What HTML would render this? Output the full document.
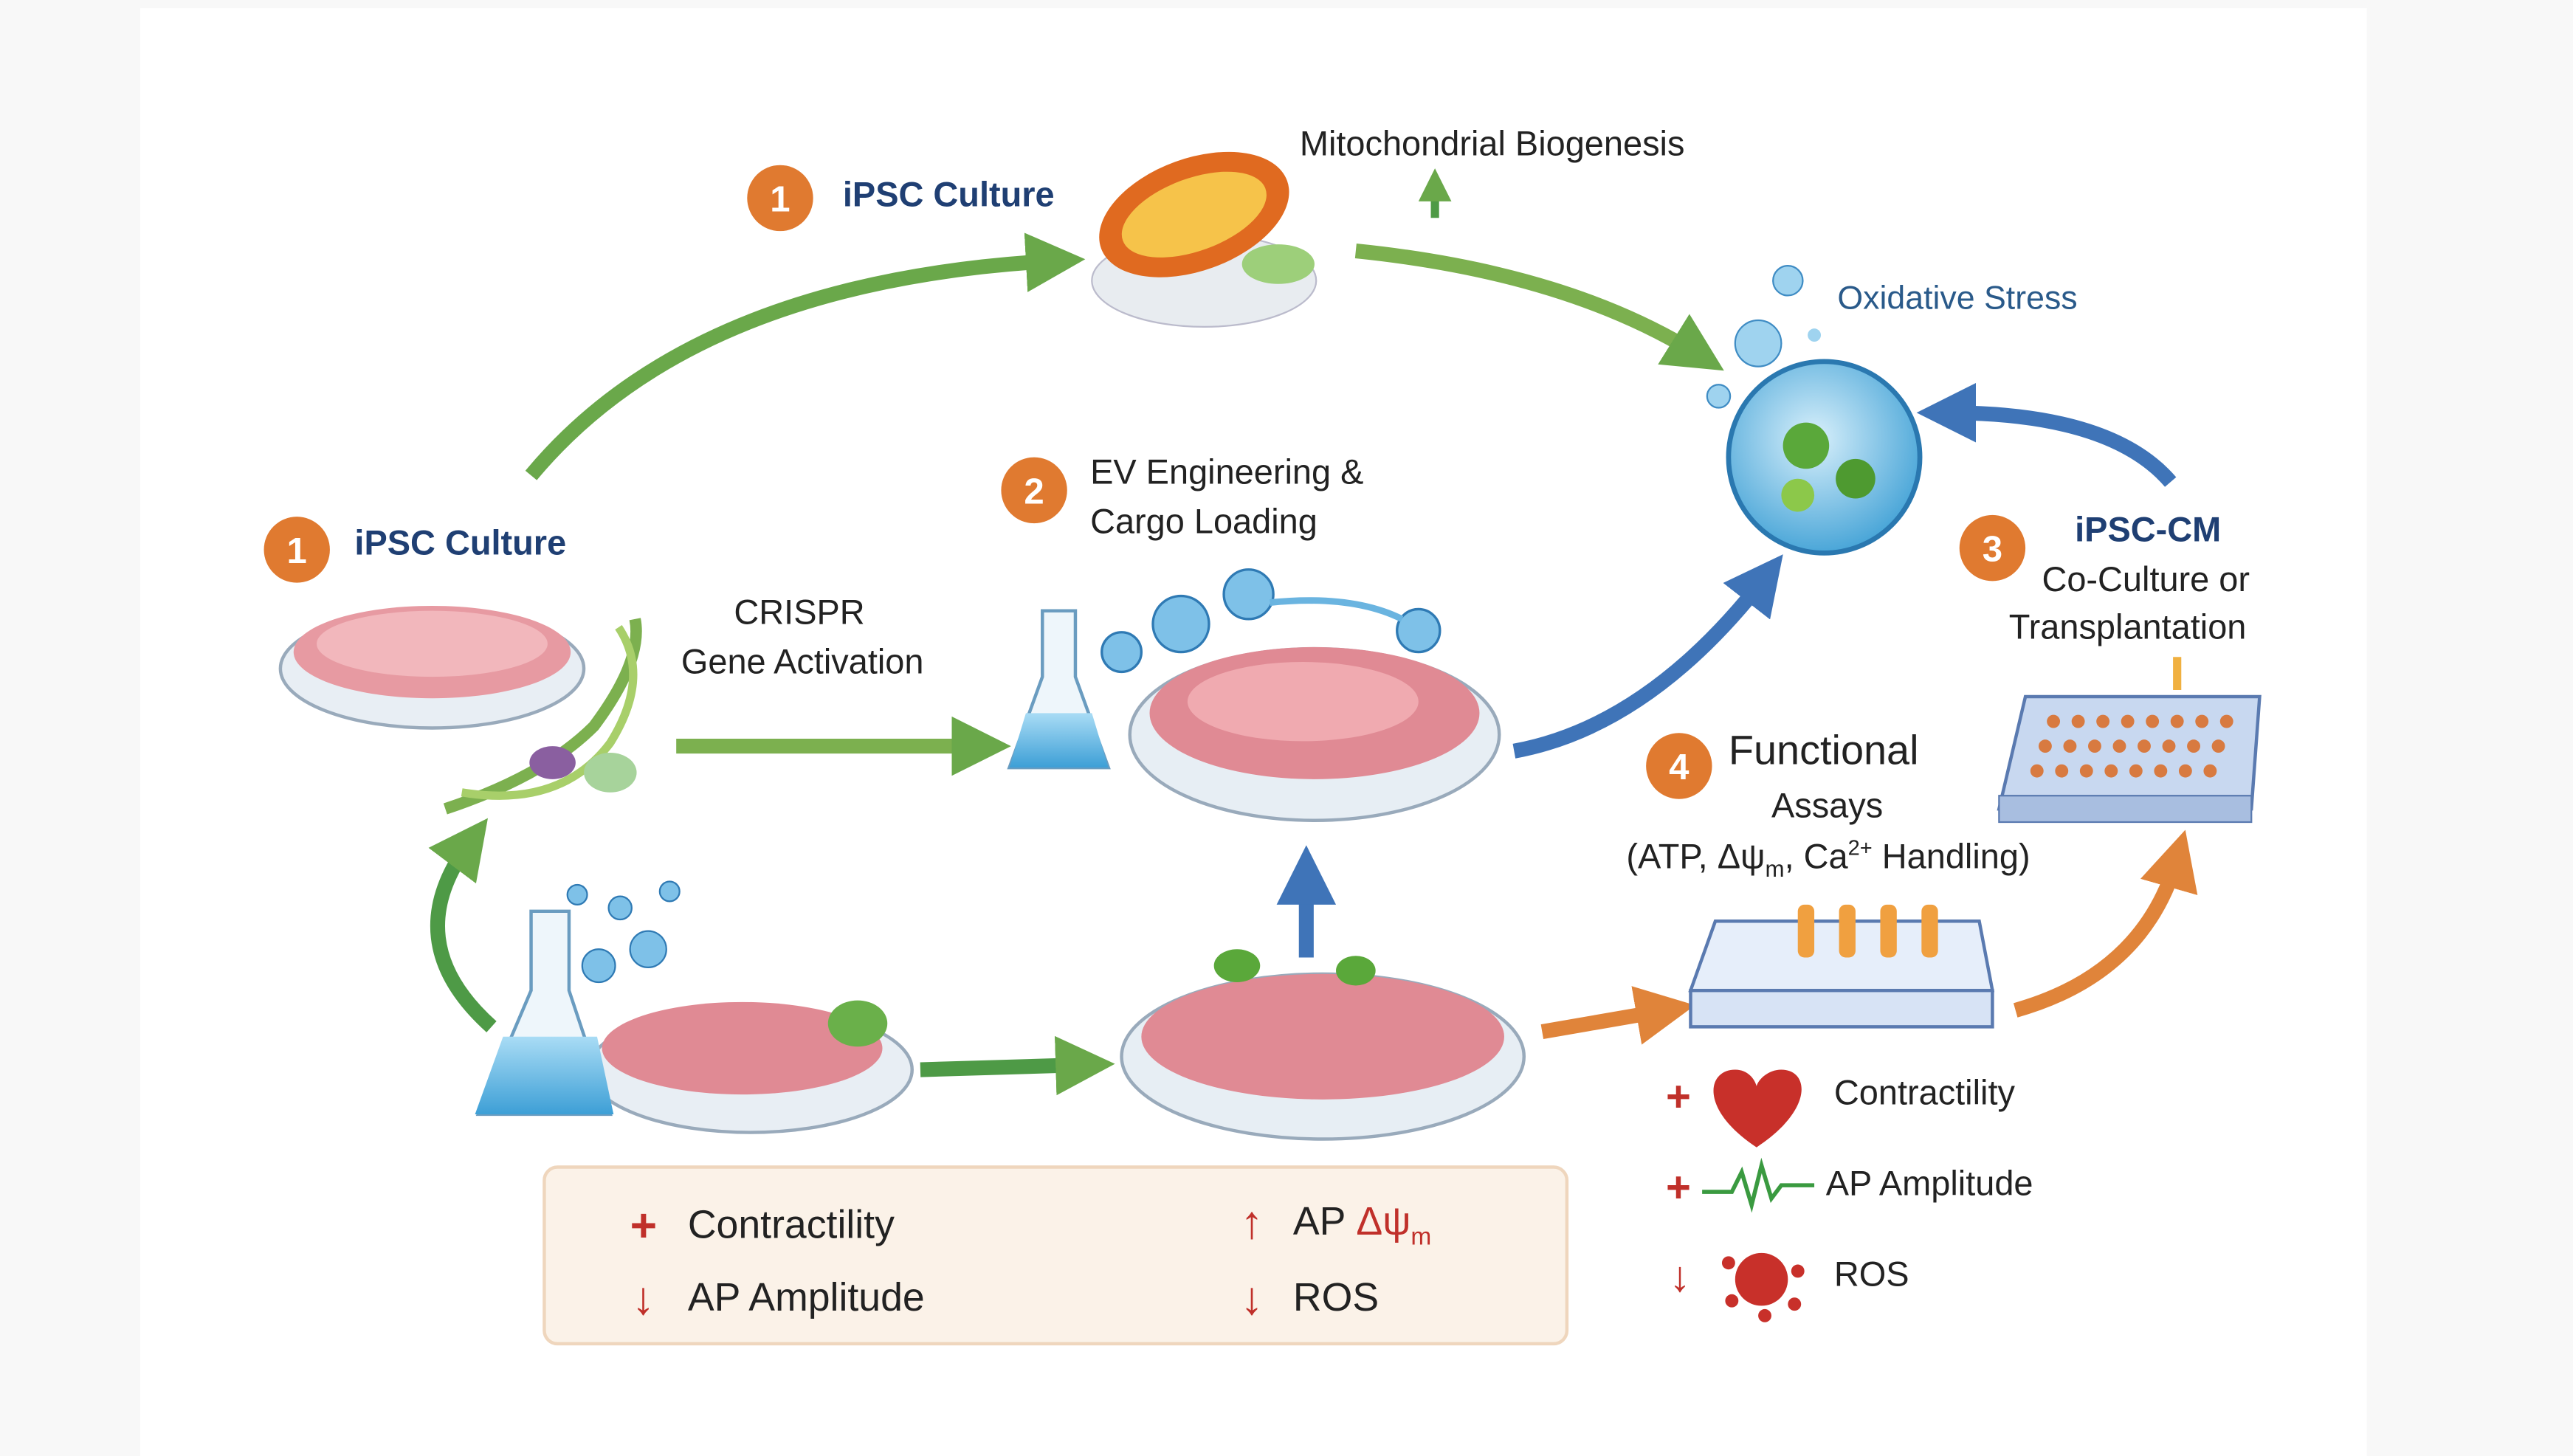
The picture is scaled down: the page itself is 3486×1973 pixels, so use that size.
<!DOCTYPE html>
<html><head><meta charset="utf-8"><style>
html,body{margin:0;padding:0;background:#fff}
svg{display:block}
text{font-family:"Liberation Sans","DejaVu Sans",sans-serif}
</style></head><body>
<svg width="3486" height="1973" viewBox="0 0 1560 882" preserveAspectRatio="none" xmlns="http://www.w3.org/2000/svg">
<defs>
<marker id="ag" viewBox="0 0 10 10" refX="5" refY="5" markerWidth="4" markerHeight="4" orient="auto"><path d="M0,0L10,5L0,10z" fill="#6aa84a"/></marker>
<marker id="ab" viewBox="0 0 10 10" refX="5" refY="5" markerWidth="4" markerHeight="4" orient="auto"><path d="M0,0L10,5L0,10z" fill="#3f74b8"/></marker>
<marker id="ao" viewBox="0 0 10 10" refX="5" refY="5" markerWidth="4" markerHeight="4" orient="auto"><path d="M0,0L10,5L0,10z" fill="#e0843a"/></marker>
<radialGradient id="cell" cx="0.45" cy="0.4" r="0.6"><stop offset="0" stop-color="#d9f0fb"/><stop offset="1" stop-color="#4aa6d8"/></radialGradient>
<linearGradient id="liq" x1="0" y1="0" x2="0" y2="1"><stop offset="0" stop-color="#a9dcf5"/><stop offset="1" stop-color="#3d9fd6"/></linearGradient>
</defs>
<rect width="1560" height="882" fill="#f8f8f8"/>
<rect x="85" y="5" width="1350" height="877" fill="#fff"/>

<!-- arrows -->
<path d="M322,288 Q420,170 640,158" stroke="#6aa84a" stroke-width="9" fill="none" marker-end="url(#ag)"/>
<path d="M822,152 Q950,165 1030,215" stroke="#7cb04f" stroke-width="9" fill="none" marker-end="url(#ag)"/>
<path d="M410,452 L595,452" stroke="#7cb04f" stroke-width="9" fill="none" marker-end="url(#ag)"/>
<path d="M298,622 Q240,570 285,510" stroke="#4e9a46" stroke-width="9" fill="none" marker-end="url(#ag)"/>
<path d="M558,648 L658,645" stroke="#4e9a46" stroke-width="9" fill="none" marker-end="url(#ag)"/>
<path d="M918,455 Q1000,440 1070,350" stroke="#3f74b8" stroke-width="9" fill="none" marker-end="url(#ab)"/>
<path d="M1316,292 Q1280,250 1180,250" stroke="#3f74b8" stroke-width="9" fill="none" marker-end="url(#ab)"/>
<path d="M792,580 L792,530" stroke="#3f74b8" stroke-width="9" fill="none" marker-end="url(#ab)"/>
<path d="M935,625 L1010,612" stroke="#e0843a" stroke-width="9" fill="none" marker-end="url(#ao)"/>
<path d="M1222,612 Q1300,590 1320,520" stroke="#e0843a" stroke-width="9" fill="none" marker-end="url(#ao)"/>
<path d="M870,132 L870,112" stroke="#4e9a46" stroke-width="5" marker-end="url(#ag)"/>
<path d="M1320,398 L1320,418" stroke="#f0b040" stroke-width="5"/>

<!-- badges -->
<g font-weight="bold" fill="#fff" font-size="22" text-anchor="middle">
<circle cx="473" cy="120" r="20" fill="#e07a30"/><text x="473" y="128">1</text>
<circle cx="180" cy="333" r="20" fill="#e07a30"/><text x="180" y="341">1</text>
<circle cx="627" cy="297" r="20" fill="#e07a30"/><text x="627" y="305">2</text>
<circle cx="1208" cy="332" r="20" fill="#e07a30"/><text x="1208" y="340">3</text>
<circle cx="1018" cy="464" r="20" fill="#e07a30"/><text x="1018" y="472">4</text>
</g>

<!-- labels -->
<g font-size="21" fill="#222">
<text x="511" y="125" fill="#1f3f73" font-weight="bold">iPSC Culture</text>
<text x="215" y="336" fill="#1f3f73" font-weight="bold">iPSC Culture</text>
<text x="788" y="94">Mitochondrial Biogenesis</text>
<text x="1114" y="187" fill="#2a5a8a" font-family="Liberation Serif,serif" font-size="20">Oxidative Stress</text>
<text x="661" y="293">EV Engineering &amp;</text>
<text x="661" y="323">Cargo Loading</text>
<text x="445" y="378">CRISPR</text>
<text x="413" y="408">Gene Activation</text>
<text x="1258" y="328" fill="#1f3f73" font-weight="bold">iPSC-CM</text>
<text x="1238" y="358">Co-Culture or</text>
<text x="1218" y="387">Transplantation</text>
<text x="1048" y="463" font-size="25">Functional</text>
<text x="1074" y="495">Assays</text>
<text x="986" y="526">(ATP, Δψ<tspan font-size="14" dy="5">m</tspan><tspan dy="-5">, Ca</tspan><tspan font-size="13" dy="-8">2+</tspan><tspan dy="8"> Handling)</tspan></text>
<text x="1112" y="669">Contractility</text>
<text x="1107" y="724">AP Amplitude</text>
<text x="1112" y="779">ROS</text>
</g>
<g fill="#c0302a" font-size="26" font-weight="bold">
<text x="1010" y="673">+</text><text x="1010" y="728">+</text><text x="1012" y="782">↓</text>
</g>

<!-- bottom box -->
<rect x="330" y="707" width="620" height="107" rx="8" fill="#fbf2e8" stroke="#efd6bd" stroke-width="2"/>
<g font-size="24" fill="#222">
<text x="417" y="750">Contractility</text>
<text x="417" y="794">AP Amplitude</text>
<text x="784" y="748">AP <tspan fill="#c0302a">Δψ<tspan font-size="15" dy="6">m</tspan></tspan></text>
<text x="784" y="794">ROS</text>
</g>
<g fill="#c0302a" font-size="28" font-weight="bold">
<text x="382" y="752">+</text><text x="383" y="796">↓</text><text x="752" y="750">↑</text><text x="752" y="796">↓</text>
</g>

<!-- petri dish top-left -->
<ellipse cx="262" cy="405" rx="92" ry="36" fill="#e8eef4" stroke="#9ab" stroke-width="2"/>
<ellipse cx="262" cy="395" rx="84" ry="28" fill="#e79aa2"/>
<ellipse cx="262" cy="390" rx="70" ry="20" fill="#f2b7bc"/>
<!-- DNA -->
<path d="M270,490 Q330,470 360,440 Q390,400 385,375" stroke="#7cb04f" stroke-width="7" fill="none"/>
<path d="M280,480 Q340,490 370,450 Q395,410 375,380" stroke="#a8cf6a" stroke-width="5" fill="none"/>
<ellipse cx="335" cy="462" rx="14" ry="10" fill="#8a5fa0"/><ellipse cx="370" cy="468" rx="16" ry="12" fill="#a7d39b"/>

<!-- mitochondrion -->
<ellipse cx="730" cy="170" rx="68" ry="28" fill="#e8ecf0" stroke="#bbc" />
<ellipse cx="724" cy="130" rx="60" ry="34" fill="#e06a20" transform="rotate(-20 724 130)"/>
<ellipse cx="724" cy="130" rx="46" ry="22" fill="#f6c34a" transform="rotate(-20 724 130)"/>
<ellipse cx="775" cy="160" rx="22" ry="12" fill="#9dcf7a"/>

<!-- cell -->
<circle cx="1106" cy="277" r="58" fill="url(#cell)" stroke="#2a78b0" stroke-width="3"/>
<circle cx="1095" cy="270" r="14" fill="#5aa83a"/><circle cx="1125" cy="290" r="12" fill="#4e9a30"/><circle cx="1090" cy="300" r="10" fill="#8cc84a"/>
<circle cx="1066" cy="208" r="14" fill="#9fd3ef" stroke="#3f8cc4"/><circle cx="1084" cy="170" r="9" fill="#9fd3ef" stroke="#3f8cc4"/><circle cx="1042" cy="240" r="7" fill="#9fd3ef" stroke="#3f8cc4"/><circle cx="1100" cy="203" r="4" fill="#9fd3ef"/>

<!-- flask middle -->
<path d="M632,370 L632,410 L612,465 L672,465 L652,410 L652,370z" fill="#eef6fb" stroke="#6a9cc0" stroke-width="2"/>
<path d="M622,432 L662,432 L672,465 L612,465z" fill="url(#liq)"/>
<g fill="#7ec1e8" stroke="#2f7ab4" stroke-width="1.5"><circle cx="680" cy="395" r="12"/><circle cx="716" cy="378" r="17"/><circle cx="757" cy="360" r="15"/><circle cx="860" cy="382" r="13"/></g>
<path d="M770,365 Q820,360 850,375" stroke="#6ab4e0" stroke-width="4" fill="none"/>
<!-- dish middle -->
<ellipse cx="797" cy="445" rx="112" ry="52" fill="#e7eef4" stroke="#9ab" stroke-width="2"/>
<ellipse cx="797" cy="432" rx="100" ry="40" fill="#e08a94"/>
<ellipse cx="790" cy="425" rx="70" ry="24" fill="#f0aab0"/>

<!-- bottom-left flask & dish -->
<ellipse cx="455" cy="648" rx="98" ry="38" fill="#e8eef4" stroke="#9ab" stroke-width="2"/>
<ellipse cx="450" cy="635" rx="85" ry="28" fill="#e08a94"/>
<ellipse cx="520" cy="620" rx="18" ry="14" fill="#6ab04a"/>
<path d="M322,552 L322,600 L290,675 L370,675 L345,600 L345,552z" fill="#eef6fb" stroke="#6a9cc0" stroke-width="2"/>
<path d="M305,628 L362,628 L372,675 L288,675z" fill="url(#liq)"/>
<g fill="#7ec1e8" stroke="#2f7ab4"><circle cx="350" cy="542" r="6"/><circle cx="376" cy="550" r="7"/><circle cx="406" cy="540" r="6"/><circle cx="363" cy="585" r="10"/><circle cx="393" cy="575" r="11"/></g>

<!-- bottom-middle dish -->
<ellipse cx="802" cy="640" rx="122" ry="50" fill="#e7eef4" stroke="#9ab" stroke-width="2"/>
<ellipse cx="802" cy="628" rx="110" ry="38" fill="#e08a94"/>
<ellipse cx="750" cy="585" rx="14" ry="10" fill="#5aa83a"/><ellipse cx="822" cy="588" rx="12" ry="9" fill="#5aa83a"/>

<!-- assay plate -->
<path d="M1040,558 L1200,558 L1208,600 L1025,600z" fill="#e6eefa" stroke="#5a7ab0" stroke-width="2"/>
<rect x="1025" y="600" width="183" height="22" fill="#d7e3f5" stroke="#5a7ab0" stroke-width="2"/>
<g fill="#f0a040"><rect x="1090" y="548" width="10" height="32" rx="4"/><rect x="1115" y="548" width="10" height="32" rx="4"/><rect x="1140" y="548" width="10" height="32" rx="4"/><rect x="1165" y="548" width="10" height="32" rx="4"/></g>

<!-- well plate -->
<path d="M1228,422 L1370,422 L1365,490 L1212,490z" fill="#c8d8f0" stroke="#5a7ab0" stroke-width="2"/>
<rect x="1212" y="482" width="153" height="16" fill="#a8bee0" stroke="#5a7ab0"/>
<g fill="#d87a40">
<circle cx="1245" cy="437" r="4"/><circle cx="1260" cy="437" r="4"/><circle cx="1275" cy="437" r="4"/><circle cx="1290" cy="437" r="4"/><circle cx="1305" cy="437" r="4"/><circle cx="1320" cy="437" r="4"/><circle cx="1335" cy="437" r="4"/><circle cx="1350" cy="437" r="4"/>
<circle cx="1240" cy="452" r="4"/><circle cx="1255" cy="452" r="4"/><circle cx="1270" cy="452" r="4"/><circle cx="1285" cy="452" r="4"/><circle cx="1300" cy="452" r="4"/><circle cx="1315" cy="452" r="4"/><circle cx="1330" cy="452" r="4"/><circle cx="1345" cy="452" r="4"/>
<circle cx="1235" cy="467" r="4"/><circle cx="1250" cy="467" r="4"/><circle cx="1265" cy="467" r="4"/><circle cx="1280" cy="467" r="4"/><circle cx="1295" cy="467" r="4"/><circle cx="1310" cy="467" r="4"/><circle cx="1325" cy="467" r="4"/><circle cx="1340" cy="467" r="4"/>
</g>

<!-- heart, wave, ROS -->
<path d="M1065,695 C1030,672 1035,648 1052,648 C1060,648 1064,654 1065,658 C1066,654 1072,648 1080,648 C1097,648 1100,672 1065,695z" fill="#c8302a"/>
<path d="M1032,722 L1050,722 L1056,710 L1062,730 L1068,706 L1074,726 L1080,718 L1100,718" stroke="#3a9a40" stroke-width="2.5" fill="none"/>
<circle cx="1068" cy="775" r="16" fill="#c8302a"/>
<g fill="#c8302a"><circle cx="1048" cy="765" r="4"/><circle cx="1090" cy="770" r="4"/><circle cx="1070" cy="797" r="4"/><circle cx="1050" cy="788" r="4"/><circle cx="1088" cy="790" r="4"/></g>
</svg>
</body></html>
